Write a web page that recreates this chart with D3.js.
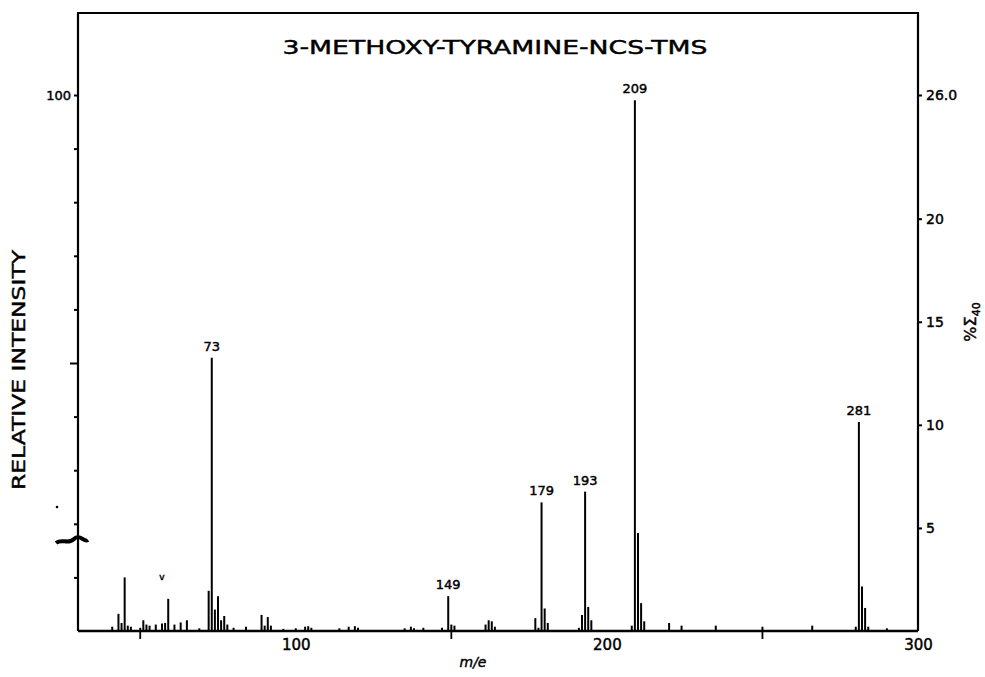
<!DOCTYPE html>
<html>
<head>
<meta charset="utf-8">
<script src="https://cdn.jsdelivr.net/npm/d3@7"></script>
<style>
body { margin: 0; background: #fff; }
text { font-family: "DejaVu Sans", sans-serif; fill: #000; stroke: #000; stroke-width: 0.45px; }
</style>
</head>
<body>
<svg id="chart"></svg>
<script>
'use strict';

var title = '3-METHOXY-TYRAMINE-NCS-TMS';
var mz = [41, 43, 44, 45, 46, 47, 50, 51, 52, 53, 55, 57, 58, 59, 61, 63, 65, 69,
          72, 73, 74, 75, 76, 77, 78, 80, 84, 89, 90, 91, 92, 96, 100, 103, 104, 105,
          114, 117, 119, 120, 135, 137, 138, 141, 147, 149, 150, 151, 161, 162, 163, 164,
          177, 178, 179, 180, 181, 191, 192, 193, 194, 195, 208, 209, 210, 211, 212,
          220, 224, 235, 250, 266, 280, 281, 282, 283, 284, 290];
var intensity = [0.8, 3.2, 1.5, 10.0, 1.0, 0.8, 0.6, 2.0, 1.2, 1.0, 1.2, 1.4, 1.5, 6.0, 1.2, 1.6, 2.0, 0.5,
                 7.5, 51, 4.0, 6.5, 2.0, 2.8, 1.2, 0.6, 0.8, 3.0, 1.0, 2.6, 1.0, 0.4, 0.5, 0.8, 0.9, 0.6,
                 0.5, 0.8, 0.9, 0.6, 0.5, 0.8, 0.5, 0.6, 0.6, 6.5, 1.2, 1.0, 1.2, 2.0, 1.8, 0.8,
                 2.4, 0.6, 24, 4.2, 1.5, 0.6, 3.0, 26, 4.5, 2.0, 1.0, 99, 18.3, 5.2, 1.8,
                 1.5, 1.0, 1.0, 0.8, 1.0, 0.8, 39, 8.3, 4.3, 0.8, 0.5];
var labelled_peaks = [73, 149, 179, 193, 209, 281];
var mz_ticks = [100, 200, 300];
var mz_minor_ticks = [50, 150, 250];
var rel_ticks = [10, 20, 30, 40, 50, 60, 70, 80, 90, 100];
var tic_ticks = [5, 10, 15, 20, 26];

var svg = d3.select('#chart').attr('width', 985).attr('height', 677);

var x = d3.scaleLinear().domain([30, 300]).range([78, 918]);
var y = d3.scaleLinear().domain([0, 100]).range([631, 95]);
var y_tic = d3.scaleLinear().domain([0, 26]).range([631, 95]);

var peaks = mz.map(function (m, i) { return { mz: m, value: intensity[i] }; });

// frame
svg.append('path')
    .attr('d', 'M78,631V13H918V631')
    .attr('fill', 'none').attr('stroke', '#000').attr('stroke-width', 2.2);

// left axis
var left_axis = svg.append('g').attr('transform', 'translate(78,0)')
    .call(d3.axisLeft(y).tickValues(rel_ticks).tickSize(4).tickSizeOuter(0)
        .tickFormat(function (d) { return d === 100 ? '100' : ''; }));
left_axis.select('.domain').remove();
left_axis.selectAll('line').attr('stroke-width', 2);
left_axis.selectAll('.tick').filter(function (d) { return d === 50; }).select('line').attr('x2', -8);
left_axis.selectAll('text').style('font-size', '13px').attr('x', -7).style('font-family', '"DejaVu Sans", sans-serif');

// right axis
var right_axis = svg.append('g').attr('transform', 'translate(918,0)')
    .call(d3.axisRight(y_tic).tickValues(tic_ticks).tickSize(4).tickSizeOuter(0)
        .tickFormat(function (d) { return d === 26 ? '26.0' : String(d); }));
right_axis.select('.domain').remove();
right_axis.selectAll('line').attr('stroke-width', 2);
right_axis.selectAll('text').style('font-size', '14px').attr('x', 8).style('font-family', '"DejaVu Sans", sans-serif');

// bottom axis
var bottom_axis = svg.append('g').attr('transform', 'translate(0,631)')
    .call(d3.axisBottom(x).tickValues(mz_ticks).tickSize(0).tickSizeOuter(0).tickFormat(d3.format('d')));
bottom_axis.select('.domain').remove();
bottom_axis.selectAll('text').style('font-size', '15px').attr('y', 8).style('font-family', '"DejaVu Sans", sans-serif');

svg.append('g').selectAll('line').data(mz_minor_ticks).enter().append('line')
    .attr('x1', function (d) { return x(d); }).attr('x2', function (d) { return x(d); })
    .attr('y1', 631).attr('y2', 639)
    .attr('stroke', '#000').attr('stroke-width', 1.8);

// baseline
svg.append('line').attr('x1', 78).attr('x2', 918).attr('y1', 631).attr('y2', 631)
    .attr('stroke', '#000').attr('stroke-width', 2.6);

// spectrum
svg.append('g').selectAll('line').data(peaks).enter().append('line')
    .attr('x1', function (d) { return x(d.mz); }).attr('x2', function (d) { return x(d.mz); })
    .attr('y1', y(0)).attr('y2', function (d) { return y(d.value); })
    .attr('stroke', '#000').attr('stroke-width', 2);

svg.append('g').selectAll('text')
    .data(peaks.filter(function (d) { return labelled_peaks.indexOf(d.mz) >= 0; }))
    .enter().append('text')
    .attr('x', function (d) { return x(d.mz); })
    .attr('y', function (d) { return y(d.value) - 7; })
    .attr('text-anchor', 'middle').style('font-size', '13px')
    .text(function (d) { return d.mz; });

// titles
svg.append('text').attr('x', 495).attr('y', 54).attr('text-anchor', 'middle')
    .attr('textLength', 425).attr('lengthAdjust', 'spacingAndGlyphs')
    .style('font-size', '20px').text(title);

svg.append('text').attr('transform', 'translate(25,370) rotate(-90)')
    .attr('text-anchor', 'middle').attr('textLength', 240).attr('lengthAdjust', 'spacingAndGlyphs')
    .style('font-size', '18px').text('RELATIVE INTENSITY');

svg.append('text').attr('x', 473).attr('y', 667).attr('text-anchor', 'middle')
    .style('font-size', '14px').style('font-style', 'italic').text('m/e');

var tic_label = svg.append('text').attr('transform', 'translate(976,322) rotate(-90)')
    .attr('text-anchor', 'middle').style('font-size', '16px');
tic_label.append('tspan').text('%Σ');
tic_label.append('tspan').attr('dy', 4).style('font-size', '11px').text('40');

// pen marks on the original chart
svg.append('path').attr('d', 'M56,543C62,538 68,545 74,539S84,543 88,540')
    .attr('fill', 'none').attr('stroke', '#000').attr('stroke-width', 4);
svg.append('circle').attr('cx', 57).attr('cy', 507).attr('r', 1.3).attr('fill', '#000');
svg.append('text').attr('x', 162).attr('y', 580).attr('text-anchor', 'middle')
    .style('font-size', '9px').text('v');
</script>
</body>
</html>
